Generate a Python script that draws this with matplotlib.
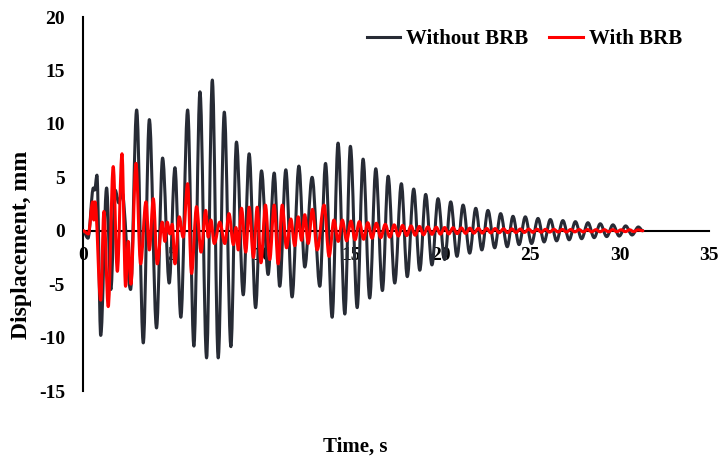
import matplotlib
matplotlib.use("Agg")
import matplotlib.pyplot as plt
from matplotlib.path import Path
from matplotlib.patches import PathPatch
from matplotlib.lines import Line2D

plt.rcParams['font.family'] = ['Liberation Serif', 'DejaVu Serif']
plt.rcParams['font.weight'] = 'bold'
plt.rcParams['axes.unicode_minus'] = False

# extrema (peaks / troughs), time in s, displacement in mm
t_sin = [0, 0.28, 0.58, 0.65, 0.78, 0.99, 1.32, 1.56, 1.8, 2.0, 2.18, 2.66,
         3.0, 3.37, 3.71, 4.11, 4.45, 4.82, 5.14, 5.47, 5.85, 6.2, 6.54, 6.91,
         7.23, 7.56, 7.9, 8.27, 8.58, 8.96, 9.29, 9.65, 9.98, 10.35, 10.69, 11.0,
         11.34, 11.69, 12.07, 12.4, 12.81, 13.24, 13.56, 13.93, 14.26, 14.64, 14.95, 15.33,
         15.66, 16.03, 16.37, 16.74, 17.06, 17.43, 17.8, 18.13, 18.49, 18.83, 19.16, 19.51,
         19.85, 20.22, 20.56, 20.91, 21.25, 21.62, 21.96, 22.3, 22.64, 23.02, 23.35, 23.72,
         24.04, 24.38, 24.73, 25.08, 25.44, 25.78, 26.13, 26.48, 26.83, 27.18, 27.53, 27.88,
         28.23, 28.58, 28.92, 29.28, 29.63, 29.98, 30.34, 30.7, 31.05, 31.3]
d_sin = [0, -0.7, 4.0, 3.8, 5.2, -9.8, 4.0, -5.5, 3.8, 2.6, 3.6, -5.5,
         11.3, -10.5, 10.4, -9.1, 6.8, -4.9, 5.9, -8.1, 11.3, -10.8, 13.0, -11.9,
         14.1, -11.9, 11.1, -10.85, 8.3, -6.0, 7.2, -7.2, 5.6, -4.1, 5.4, -5.2,
         5.7, -6.2, 6.05, -3.4, 5.0, -5.2, 6.3, -8.1, 8.2, -7.8, 7.9, -7.2,
         6.7, -6.3, 5.8, -5.6, 5.1, -4.9, 4.4, -4.3, 3.9, -3.7, 3.4, -3.2,
         3.0, -2.7, 2.7, -2.4, 2.4, -2.1, 2.1, -1.8, 1.9, -1.6, 1.6, -1.5,
         1.35, -1.3, 1.3, -1.2, 1.15, -1.05, 1.05, -0.95, 0.95, -0.85, 0.85, -0.75,
         0.75, -0.65, 0.65, -0.55, 0.55, -0.5, 0.45, -0.4, 0.35, 0]

t_con = [0, 0.3, 0.54, 0.6, 0.67, 0.99, 1.17, 1.41, 1.69, 1.92, 2.18, 2.38,
         2.53, 2.68, 2.96, 3.22, 3.52, 3.71, 3.93, 4.15, 4.43, 4.58, 4.71, 4.86,
         4.99, 5.14, 5.38, 5.6, 5.85, 6.07, 6.35, 6.6, 6.86, 7.0, 7.15, 7.34,
         7.65, 7.93, 8.16, 8.41, 8.55, 8.68, 8.86, 9.1, 9.29, 9.53, 9.74, 9.95,
         10.2, 10.44, 10.69, 10.91, 11.14, 11.38, 11.62, 11.84, 12.03, 12.22, 12.4, 12.59,
         12.83, 13.09, 13.48, 13.76, 14.03, 14.27, 14.5, 14.74, 14.98, 15.21, 15.45, 15.69,
         15.92, 16.16, 16.4, 16.65, 16.9, 17.15, 17.4, 17.63, 17.87, 18.1, 18.34, 18.57,
         18.81, 19.04, 19.28, 19.51, 19.75, 19.98, 20.22, 20.45, 20.69, 20.92, 21.16, 21.39,
         21.63, 21.86, 22.1, 22.33, 22.57, 22.8, 23.04, 23.27, 23.51, 23.74, 23.98, 24.21,
         24.45, 24.68, 24.92, 25.15, 25.39, 25.62, 25.86, 26.09, 26.33, 26.56, 26.8, 27.03,
         27.27, 27.5, 27.74, 27.97, 28.21, 28.44, 28.68, 28.91, 29.15, 29.38, 29.62, 29.85,
         30.09, 30.32, 30.56, 30.79, 31.03, 31.3]
d_con = [0, -0.3, 2.7, 1.0, 2.7, -6.5, 1.8, -7.1, 6.0, -3.8, 7.2, -5.2,
         -1.0, -5.0, 6.3, -3.1, 2.7, -1.8, 3.0, -3.1, 0.8, -1.0, 0.8, -0.3,
         0.6, -3.1, 1.3, -0.6, 4.4, -4.0, 2.25, -2.0, 1.9, -0.6, 1.0, -1.2,
         0.8, -1.2, 1.6, -1.3, 0.3, -1.8, 2.1, -2.0, 2.2, -2.5, 2.2, -3.0,
         2.4, -2.7, 2.4, -3.1, 2.4, -1.6, 1.1, -1.4, 1.3, -0.9, 1.5, -1.2,
         2.0, -1.8, 2.4, -2.4, 1.0, -1.0, 1.0, -0.95, 0.9, -0.85, 0.85, -0.8,
         0.75, -0.7, 0.7, -0.65, 0.6, -0.6, 0.55, -0.5, 0.5, -0.45, 0.45, -0.42,
         0.4, -0.38, 0.36, -0.34, 0.33, -0.32, 0.3, -0.3, 0.28, -0.27, 0.26, -0.25,
         0.24, -0.23, 0.22, -0.22, 0.21, -0.2, 0.2, -0.19, 0.18, -0.18, 0.17, -0.17,
         0.16, -0.16, 0.15, -0.15, 0.14, -0.14, 0.13, -0.13, 0.13, -0.12, 0.12, -0.12,
         0.12, -0.11, 0.11, -0.11, 0.11, -0.1, 0.1, -0.1, 0.1, -0.1, 0.1, -0.09,
         0.09, -0.09, 0.09, -0.08, 0.08, 0]

labels = ['Without BRB', 'With BRB']
colors = ['#272b35', '#ff0000']


def smooth_path(t, d, k=0.36):
    # curve through the extrema with flat tangents at each one
    verts = [(t[0], d[0])]
    codes = [Path.MOVETO]
    for i in range(len(t) - 1):
        dt = t[i + 1] - t[i]
        verts += [(t[i] + k * dt, d[i]), (t[i + 1] - k * dt, d[i + 1]), (t[i + 1], d[i + 1])]
        codes += [Path.CURVE4] * 3
    return Path(verts, codes)


fig = plt.figure(figsize=(7.22, 4.61), dpi=100)
ax = fig.add_axes([83 / 722, 1 - 391 / 461, 626 / 722, 374 / 461])

for (t, d), c, z in zip([(t_sin, d_sin), (t_con, d_con)], colors, [3, 4]):
    ax.add_patch(PathPatch(smooth_path(t, d), fill=False, edgecolor=c, lw=2.2,
                           zorder=z, joinstyle='round', capstyle='round'))

ax.set_xlim(0, 35)
ax.set_ylim(-15, 20)
ax.set_xticks(range(0, 36, 5))
ax.set_yticks(range(-15, 21, 5))
ax.spines['bottom'].set_position(('data', 0))
ax.spines['top'].set_visible(False)
ax.spines['right'].set_visible(False)
for s in ['left', 'bottom']:
    ax.spines[s].set_linewidth(1.5)
    ax.spines[s].set_color('black')
ax.tick_params(axis='both', length=0, labelsize=14)
ax.tick_params(axis='x', pad=12)
ax.tick_params(axis='y', pad=13)

handles = [Line2D([], [], color=c, lw=2.2) for c in colors]
ax.legend(handles, labels, loc='center right', ncol=2, frameon=False,
          bbox_to_anchor=(682 / 722, 1 - 39 / 461), bbox_transform=fig.transFigure,
          borderpad=0, borderaxespad=0, handlelength=1.6, handletextpad=0.3,
          columnspacing=1.0, prop={'size': 15, 'weight': 'bold'})

fig.text(355 / 722, 1 - 447 / 461, 'Time, s', ha='center', va='center', size=15)
fig.text(22 / 722, 1 - 245 / 461, 'Displacement, mm', rotation=90,
         ha='center', va='center', size=17)

fig.savefig('out.png', dpi=100)
